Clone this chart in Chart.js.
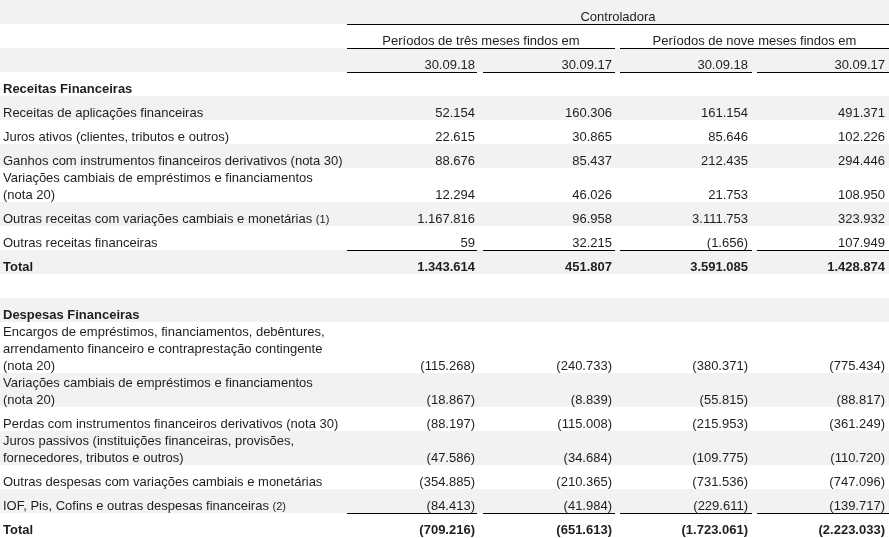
<!DOCTYPE html>
<html>
<head>
<meta charset="utf-8">
<script src="https://cdn.jsdelivr.net/npm/chart.js@4.4.0/dist/chart.umd.min.js"></script>
<style>
  html, body { margin: 0; padding: 0; background: #ffffff; }
  #wrap { width: 889px; height: 538px; position: relative; }
</style>
</head>
<body>
<div id="wrap"><canvas id="c" width="889" height="538"></canvas></div>
<script>
// ---------------- DATA ----------------
const groupTitle = "Controladora";
const periodLabels = ["Períodos de três meses findos em", "Períodos de nove meses findos em"];
const dateLabels = ["30.09.18", "30.09.17", "30.09.18", "30.09.17"];

const rowLabels = [
  "Receitas Financeiras",
  "Receitas de aplicações financeiras",
  "Juros ativos (clientes, tributos e outros)",
  "Ganhos com instrumentos financeiros derivativos (nota 30)",
  "Variações cambiais de empréstimos e financiamentos\n(nota 20)",
  "Outras receitas com variações cambiais e monetárias",
  "Outras receitas financeiras",
  "Total",
  "",
  "Despesas Financeiras",
  "Encargos de empréstimos, financiamentos, debêntures,\narrendamento financeiro e contraprestação contingente\n(nota 20)",
  "Variações cambiais de empréstimos e financiamentos\n(nota 20)",
  "Perdas com instrumentos financeiros derivativos (nota 30)",
  "Juros passivos (instituições financeiras, provisões,\nfornecedores, tributos e outros)",
  "Outras despesas com variações cambiais e monetárias",
  "IOF, Pis, Cofins e outras despesas financeiras",
  "Total"
];
const rowNotes = ["", "", "", "", "", "(1)", "", "", "", "", "", "", "", "", "", "(2)", ""];
const rowTypes = ["section", "item", "item", "item", "item", "item", "item", "total", "blank",
                  "section", "item", "item", "item", "item", "item", "item", "total"];

const q3_2018 = [null, 52154, 22615, 88676, 12294, 1167816, 59, 1343614, null,
                 null, -115268, -18867, -88197, -47586, -354885, -84413, -709216];
const q3_2017 = [null, 160306, 30865, 85437, 46026, 96958, 32215, 451807, null,
                 null, -240733, -8839, -115008, -34684, -210365, -41984, -651613];
const m9_2018 = [null, 161154, 85646, 212435, 21753, 3111753, -1656, 3591085, null,
                 null, -380371, -55815, -215953, -109775, -731536, -229611, -1723061];
const m9_2017 = [null, 491371, 102226, 294446, 108950, 323932, 107949, 1428874, null,
                 null, -775434, -88817, -361249, -110720, -747096, -139717, -2223033];

// ---------------- LAYOUT / STYLE ----------------
const W = 889, H = 538;
const seriesCols = [q3_2018, q3_2017, m9_2018, m9_2017];
const colSpans = [[347, 477], [483, 615], [620, 752], [757, 889]];
const colRight = [475, 612, 748, 885];
const groupSpans = [[347, 615], [620, 889]];
const topSpan = [347, 889];
const LABEL_X = 3, LINE_H = 17, MIN_ROW = 24, BASE_OFF = 3;
const BAND = "#f2f2f2", INK = "#1e1e1e", RULE = "#000000";
const FAMILY = "'Liberation Sans', Arial, Helvetica, sans-serif";
const F_REG = "13px " + FAMILY, F_BOLD = "bold 13px " + FAMILY, F_NOTE = "11px " + FAMILY;

function fmt(v) {
  if (v === null || v === undefined) return "";
  const s = Math.abs(v).toString().replace(/\B(?=(\d{3})+(?!\d))/g, ".");
  return v < 0 ? "(" + s + ")" : s;
}

// row geometry in scale units (computed from line counts)
const rows = [];
let cursor = 0;
for (let i = 0; i < 3; i++) { rows.push({ top: cursor, bottom: cursor + MIN_ROW, header: i }); cursor += MIN_ROW; }
rowLabels.forEach((lab, i) => {
  const n = lab === "" ? 1 : lab.split("\n").length;
  const h = Math.max(MIN_ROW, n * LINE_H);
  rows.push({ top: cursor, bottom: cursor + h, body: i });
  cursor += h;
});
const ruleAfter = [6, 15]; // body rows whose value cells are underlined (subtotal rules)

const tablePlugin = {
  id: "financeTable",
  afterDraw(chart) {
    const ctx = chart.ctx;
    const xs = chart.scales.x, ys = chart.scales.y;
    const X = v => xs.getPixelForValue(v);
    const Y = v => ys.getPixelForValue(v);
    ctx.save();
    // bands
    rows.forEach((r, k) => {
      if (k % 2 === 0) {
        ctx.fillStyle = BAND;
        ctx.fillRect(X(0), Y(r.top), X(W) - X(0), Y(r.bottom) - Y(r.top));
      }
    });
    const hline = (x0, x1, yv) => {
      ctx.fillStyle = RULE;
      ctx.fillRect(Math.round(X(x0)), Math.round(Y(yv)), Math.round(X(x1) - X(x0)), 1);
    };
    ctx.fillStyle = INK;
    ctx.textBaseline = "alphabetic";
    // header row 0
    ctx.font = F_REG;
    ctx.textAlign = "center";
    ctx.fillText(groupTitle, X((topSpan[0] + topSpan[1]) / 2), Y(rows[0].bottom - BASE_OFF));
    hline(topSpan[0], topSpan[1], rows[0].bottom);
    // header row 1
    periodLabels.forEach((p, g) => {
      ctx.fillStyle = INK;
      ctx.fillText(p, X((groupSpans[g][0] + groupSpans[g][1]) / 2), Y(rows[1].bottom - BASE_OFF));
      hline(groupSpans[g][0], groupSpans[g][1], rows[1].bottom);
    });
    // header row 2
    ctx.textAlign = "right";
    dateLabels.forEach((d, c) => {
      ctx.fillStyle = INK;
      ctx.fillText(d, X(colRight[c]), Y(rows[2].bottom - BASE_OFF));
      hline(colSpans[c][0], colSpans[c][1], rows[2].bottom);
    });
    // body
    rows.slice(3).forEach((r) => {
      const i = r.body;
      const type = rowTypes[i];
      const lines = rowLabels[i] === "" ? [] : rowLabels[i].split("\n");
      const bold = type === "section" || type === "total";
      ctx.fillStyle = INK;
      ctx.textAlign = "left";
      lines.forEach((ln, j) => {
        const base = r.bottom - BASE_OFF - LINE_H * (lines.length - 1 - j);
        ctx.font = bold ? F_BOLD : F_REG;
        ctx.fillText(ln, X(LABEL_X), Y(base));
        if (j === lines.length - 1 && rowNotes[i]) {
          const w = ctx.measureText(ln + " ").width;
          ctx.font = F_NOTE;
          ctx.fillText(rowNotes[i], X(LABEL_X) + w, Y(base));
        }
      });
      ctx.textAlign = "right";
      ctx.font = type === "total" ? F_BOLD : F_REG;
      seriesCols.forEach((col, c) => {
        const v = col[i];
        if (v !== null) ctx.fillText(fmt(v), X(colRight[c]), Y(r.bottom - BASE_OFF));
      });
      if (ruleAfter.includes(i)) {
        colSpans.forEach(s => hline(s[0], s[1], r.bottom));
      }
    });
    ctx.restore();
  }
};

new Chart(document.getElementById("c"), {
  type: "scatter",
  data: { datasets: [{ label: "table", data: [], pointRadius: 0 }] },
  options: {
    responsive: false,
    animation: false,
    events: [],
    layout: { padding: 0 },
    plugins: { legend: { display: false }, tooltip: { enabled: false }, title: { display: false } },
    scales: {
      x: { type: "linear", min: 0, max: W, display: false },
      y: { type: "linear", min: 0, max: H, reverse: true, display: false }
    }
  },
  plugins: [tablePlugin]
});
</script>
</body>
</html>
